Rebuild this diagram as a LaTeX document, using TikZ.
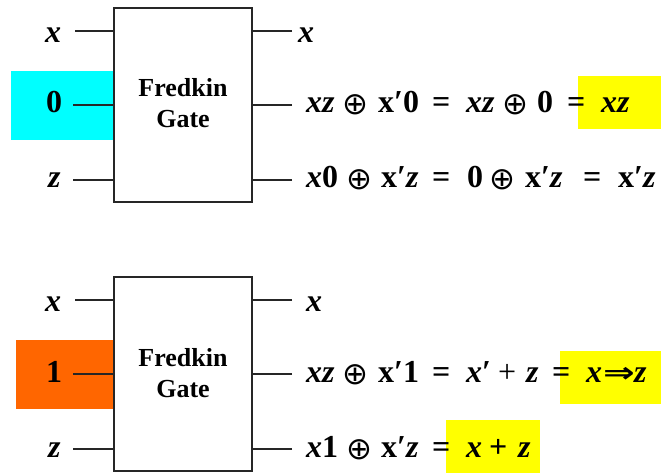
\documentclass[tikz,border=0pt]{standalone}
\usepackage{fontspec}
\setmainfont{Liberation Serif}
\newfontfamily\symfont{DejaVu Sans}
\newcommand{\pr}{\textbf{\char"2032}}
\newcommand{\bi}[1]{\textbf{\textit{#1}}}
\newcommand{\bu}[1]{\textbf{#1}}
\tikzset{
 gatebox/.style={draw=black!85,line width=1.7pt,minimum width=138pt,minimum height=194pt,inner sep=0pt,fill=white},
 wire/.style={draw=black!85,line width=1.4pt},
 tx/.style={anchor=base west,inner sep=0pt,font=\fontsize{32}{32}\selectfont,text=black},
 op/.style={anchor=base west,inner sep=0pt,yshift=-2pt,font=\fontsize{31}{31}\selectfont\symfont,text=black},
 arrowop/.style={anchor=base west,inner sep=0pt,font=\fontsize{28}{28}\selectfont\symfont\bfseries,text=black},
 gatelabel/.style={anchor=base,inner sep=0pt,font=\fontsize{26}{26}\selectfont\bfseries,text=black},
}
\definecolor{hlcyan}{RGB}{0,255,255}
\definecolor{hlorange}{RGB}{255,102,0}
\definecolor{hlyellow}{RGB}{255,255,0}
\begin{document}
\begin{tikzpicture}[x=1pt,y=-1pt]
\useasboundingbox (0,0) rectangle (661,475);
% highlights
\fill[hlcyan] (11,71) rectangle (114,140);
\fill[hlorange] (16,340) rectangle (114,409);
\fill[hlyellow] (578,76) rectangle (661,129);
\fill[hlyellow] (560,351) rectangle (661,404);
\fill[hlyellow] (446,420) rectangle (540,473);
% gates
\node[gatebox] (g1) at (183,105) {};
\node[gatebox] (g2) at (183,374) {};
\node[gatelabel] (g1a) at (183,96) {Fredkin};
\node[gatelabel] (g1b) at (183,127) {Gate};
\node[gatelabel] (g2a) at (183,366) {Fredkin};
\node[gatelabel] (g2b) at (183,397) {Gate};
% wire ends
\coordinate (a1) at (75,31); \coordinate (a2) at (73,105); \coordinate (a3) at (73,180);
\coordinate (b1) at (292,31); \coordinate (b2) at (292,105); \coordinate (b3) at (292,180);
\coordinate (c1) at (75,300); \coordinate (c2) at (73,374); \coordinate (c3) at (73,449);
\coordinate (d1) at (292,300); \coordinate (d2) at (292,374); \coordinate (d3) at (292,449);
\foreach \p in {a1,a2,a3}{\draw[wire] (\p) -- (\p -| g1.west);}
\foreach \p in {b1,b2,b3}{\draw[wire] (\p) -- (\p -| g1.east);}
\foreach \p in {c1,c2,c3}{\draw[wire] (\p) -- (\p -| g2.west);}
\foreach \p in {d1,d2,d3}{\draw[wire] (\p) -- (\p -| g2.east);}
% left labels
\node[tx] (l1) at (45,42) {\bi{x}};
\node[tx] (l2) at (46,112) {\bu{0}};
\node[tx] (l3) at (48,187) {\bi{z}};
\node[tx] (l4) at (45,311) {\bi{x}};
\node[tx] (l5) at (46,382) {\bu{1}};
\node[tx] (l6) at (48,457) {\bi{z}};
% outputs
\node[tx] (o1) at (298,42) {\bi{x}};
\node[tx] (o2) at (306,311) {\bi{x}};
% row 1
\node[tx] (r1a) at (306,112) {\bi{xz}};
\node[op] (r1b) at (342,112) {⊕};
\node[tx] (r1c) at (378,112) {\bu{x}\pr\bu{0}};
\node[tx] (r1d) at (432,112) {\bu{=}};
\node[tx] (r1e) at (466,112) {\bi{xz}};
\node[op] (r1f) at (502,112) {⊕};
\node[tx] (r1g) at (537,112) {\bu{0}};
\node[tx] (r1h) at (567,112) {\bu{=}};
\node[tx] (r1i) at (601,112) {\bi{xz}};
% row 2
\node[tx] (r2a) at (306,187) {\bi{x}\bu{0}};
\node[op] (r2b) at (346,187) {⊕};
\node[tx] (r2c) at (381,187) {\bu{x}\pr\bi{z}};
\node[tx] (r2d) at (432,187) {\bu{=}};
\node[tx] (r2e) at (467,187) {\bu{0}};
\node[op] (r2f) at (489,187) {⊕};
\node[tx] (r2g) at (525,187) {\bu{x}\pr\bi{z}};
\node[tx] (r2h) at (583,187) {\bu{=}};
\node[tx] (r2i) at (618,187) {\bu{x}\pr\bi{z}};
% row 3
\node[tx] (r3a) at (306,382) {\bi{xz}};
\node[op] (r3b) at (342,382) {⊕};
\node[tx] (r3c) at (378,382) {\bu{x}\pr\bu{1}};
\node[tx] (r3d) at (432,382) {\bu{=}};
\node[tx] (r3e) at (466,382) {\bi{x}\pr};
\node[tx] (r3f) at (498,382) {+};
\node[tx] (r3g) at (526,382) {\bi{z}};
\node[tx] (r3h) at (552,382) {\bu{=}};
\node[tx] (r3i) at (586,382) {\bi{x}};
\node[arrowop] (r3j) at (603,382) {\scalebox{1.35}[1]{⇒}};
\node[tx] (r3k) at (634,382) {\bi{z}};
% row 4
\node[tx] (r4a) at (306,457) {\bi{x}\bu{1}};
\node[op] (r4b) at (346,457) {⊕};
\node[tx] (r4c) at (381,457) {\bu{x}\pr\bi{z}};
\node[tx] (r4d) at (432,457) {\bu{=}};
\node[tx] (r4e) at (466,457) {\bi{x}};
\node[tx] (r4f) at (489,457) {\bu{+}};
\node[tx] (r4g) at (518,457) {\bi{z}};
\end{tikzpicture}
\end{document}
